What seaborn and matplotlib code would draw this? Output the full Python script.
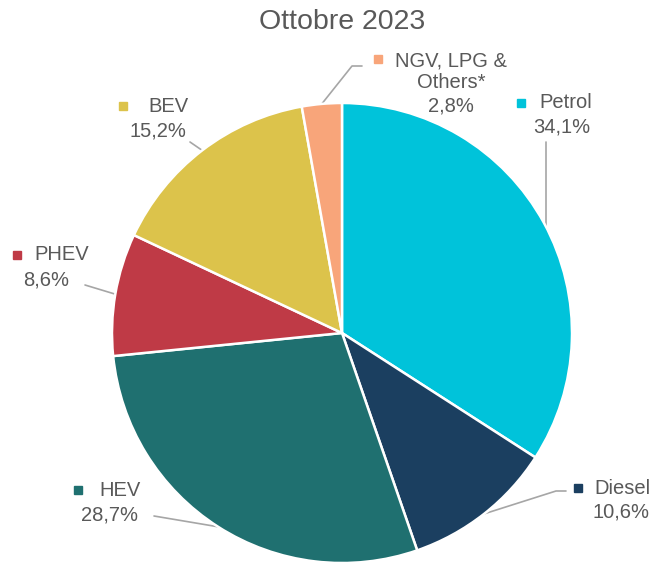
import numpy as np
import matplotlib
matplotlib.use("Agg")
import matplotlib.pyplot as plt
import seaborn as sns

# ============ Data ============
categories = ["Petrol", "Diesel", "HEV", "PHEV", "BEV", "NGV, LPG &\nOthers*"]
shares = [34.1, 10.6, 28.7, 8.6, 15.2, 2.8]
pct_labels = ["34,1%", "10,6%", "28,7%", "8,6%", "15,2%", "2,8%"]
colors = ["#00C3DA", "#1B3F60", "#1F7070", "#BF3A46", "#DCC34B", "#F8A57A"]
title = "Ottobre 2023"

# ============ Layout (pixels) ============
W, H = 656, 562
CX, CY, R = 342, 333, 230
label_pos = {
    "Petrol": dict(name=(566, 103), pct=(562, 127), mark=(521, 103), elbow=None, line_end=(546, 142)),
    "Diesel": dict(name=(622, 488), pct=(621, 512), mark=(578, 488), elbow=(556, 491), line_end=(566, 491)),
    "HEV": dict(name=(120, 490), pct=(110, 515), mark=(78, 490), elbow=None, line_end=(154, 516)),
    "PHEV": dict(name=(62, 255), pct=(46, 280), mark=(17, 255), elbow=None, line_end=(85, 285)),
    "BEV": dict(name=(168, 106), pct=(158, 131), mark=(123, 106), elbow=None, line_end=(190, 142)),
    "NGV, LPG &\nOthers*": dict(name=(451, 72), pct=(451, 106), mark=(378, 59), elbow=(352, 66), line_end=(362, 66)),
}

sns.set_theme(style="white")
plt.rcParams["font.family"] = ["Liberation Sans", "DejaVu Sans"]

fig = plt.figure(figsize=(W / 100, H / 100), dpi=100)
ax = fig.add_axes([(CX - R) / W, (H - CY - R) / H, 2 * R / W, 2 * R / H])

wedges, _ = ax.pie(shares, colors=colors, startangle=90, counterclock=False,
                   radius=1, wedgeprops=dict(edgecolor="white", linewidth=1.8))
ax.set_xlim(-1, 1)
ax.set_ylim(-1, 1)
ax.set_aspect("equal")
ax.axis("off")


def to_data(p):
    return ((p[0] - CX) / R, (CY - p[1]) / R)


txt_color = "#595959"
fs = 14.5
for w, cat, pct, col in zip(wedges, categories, pct_labels, colors):
    cfg = label_pos[cat]
    mid = np.deg2rad((w.theta1 + w.theta2) / 2)
    edge = (np.cos(mid), np.sin(mid))
    if cat == "Petrol":
        x0, y0 = to_data(cfg["line_end"])
        ye = np.sqrt(1 - x0 ** 2)
        pts = [(x0, y0), (x0, ye)]
    else:
        pts = [edge]
        if cfg["elbow"] is not None:
            pts.append(to_data(cfg["elbow"]))
        pts.append(to_data(cfg["line_end"]))
    xs, ys = zip(*pts)
    ax.plot(xs, ys, color="#A6A6A6", lw=1.2, clip_on=False, zorder=0)

    mx, my = to_data(cfg["mark"])
    ax.plot([mx], [my], marker="s", ms=6, color=col, clip_on=False)
    nx, ny = to_data(cfg["name"])
    ax.text(nx, ny, cat, ha="center", va="center", fontsize=fs, color=txt_color,
            linespacing=1.15)
    px, py = to_data(cfg["pct"])
    ax.text(px, py, pct, ha="center", va="center", fontsize=fs, color=txt_color)

fig.text(CX / W, 1 - 22 / H, title, ha="center", va="center", fontsize=20.5, color=txt_color)

fig.savefig("out.png", dpi=100)
